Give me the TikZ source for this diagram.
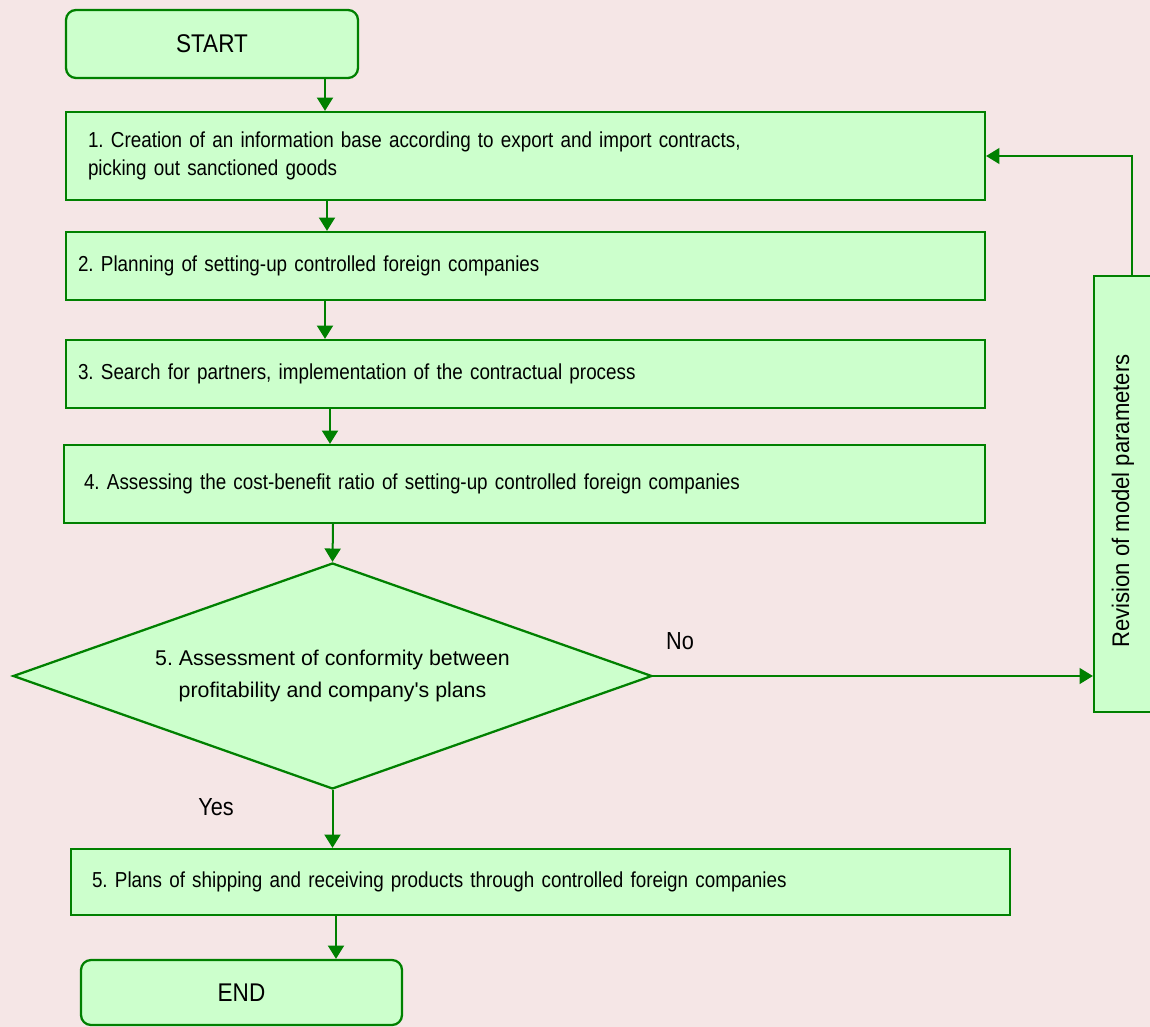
\documentclass[tikz,border=0pt]{standalone}
\usepackage{fontspec}
\usepackage{graphicx}
\setmainfont{Liberation Sans}
\newfontfamily\bodyfont[FakeStretch=0.87,WordSpace=0.8]{Liberation Sans}
\newfontfamily\titlefont[FakeStretch=0.88]{Liberation Sans}
\newfontfamily\revfont[FakeStretch=0.92]{Liberation Sans}
\usetikzlibrary{shapes.geometric,arrows.meta,calc}
\definecolor{bg}{HTML}{F5E6E6}
\definecolor{fillg}{HTML}{CCFFCC}
\definecolor{lineg}{HTML}{008000}
\frenchspacing
\begin{document}
\begin{tikzpicture}[x=0.75pt,y=-0.75pt,
  box/.style={draw=lineg, fill=fillg, line width=1.7pt, rectangle, inner ysep=0pt},
  body/.style={font=\bodyfont\frenchspacing\fontsize{16.25}{21}\selectfont, align=left},
  term/.style={box, rounded corners=7.5pt, font=\titlefont\fontsize{19.2}{23}\selectfont},
  arr/.style={draw=lineg, line width=1.5pt, -{Triangle[length=10pt,width=12pt]}},
  fb/.style={arr, line width=1.1pt},
  lbl/.style={font=\titlefont\fontsize{18.5}{22}\selectfont, inner sep=0pt}]
\useasboundingbox (0,0) rectangle (1150,1027);
\fill[bg] (0,0) rectangle (1150,1027);

\node[term, minimum width=219pt, minimum height=51pt] (start) at (212,44) {START};
\node[box, body, text width=656.25pt, inner xsep=16.5pt, minimum height=66pt] (b1) at (525.5,156)
  {1. Creation of an information base according to export and import contracts,\\picking out sanctioned goods};
\node[box, body, text width=671.25pt, inner xsep=9pt, minimum height=51pt] (b2) at (525.5,266)
  {2. Planning of setting-up controlled foreign companies};
\node[box, body, text width=671.25pt, inner xsep=9pt, minimum height=51pt] (b3) at (525.5,374)
  {3. Search for partners, implementation of the contractual process};
\node[box, body, text width=660.75pt, inner xsep=15pt, minimum height=58.5pt] (b4) at (524.5,484)
  {4. Assessing the cost-benefit ratio of setting-up controlled foreign companies};
\node[box, shape=diamond, aspect=2.83, minimum width=479.25pt, minimum height=169.5pt, inner sep=0pt,
  align=center, font=\frenchspacing\fontsize{16}{24}\selectfont] (d) at (332.5,676)
  {5. Assessment of conformity between\\profitability and company\textquotesingle s plans};
\node[box, inner sep=0pt, minimum width=43.5pt, minimum height=327pt,
  font=\revfont\fontsize{18}{22}\selectfont] (rev) at (1123,494)
  {\rotatebox{90}{Revision of model parameters\hspace{10.5pt}}};
\node[box, body, text width=672.75pt, inner xsep=15.75pt, minimum height=49.5pt] (b5) at (540.5,882)
  {5. Plans of shipping and receiving products through controlled foreign companies};
\node[term, minimum width=240.75pt, minimum height=48.75pt] (end) at (241.5,992.5) {END};

\node[lbl] (no) at (680,641) {No};
\node[lbl] (yes) at (216,807) {Yes};

\draw[arr] ($(start.south)+(113,0)$) -- ($(b1.north)+(-200.5,0)$);
\draw[arr] ($(b1.south)+(-198.5,0)$) -- ($(b2.north)+(-198.5,0)$);
\draw[arr] ($(b2.south)+(-200.5,0)$) -- ($(b3.north)+(-200.5,0)$);
\draw[arr] ($(b3.south)+(-195.5,0)$) -- ($(b4.north)+(-194.5,0)$);
\draw[arr] ($(b4.south)+(-191.5,0)$) -- (d.north);
\draw[arr] (d.south) -- ($(b5.north)+(-208,0)$);
\draw[arr] ($(b5.south)+(-204.5,0)$) -- ($(end.north)+(94.5,0)$);
\draw[fb] (d.east) -- (d.east -| rev.west);
\draw[fb] ($(rev.north)+(9,0)$) |- (b1.east);
\end{tikzpicture}
\end{document}
